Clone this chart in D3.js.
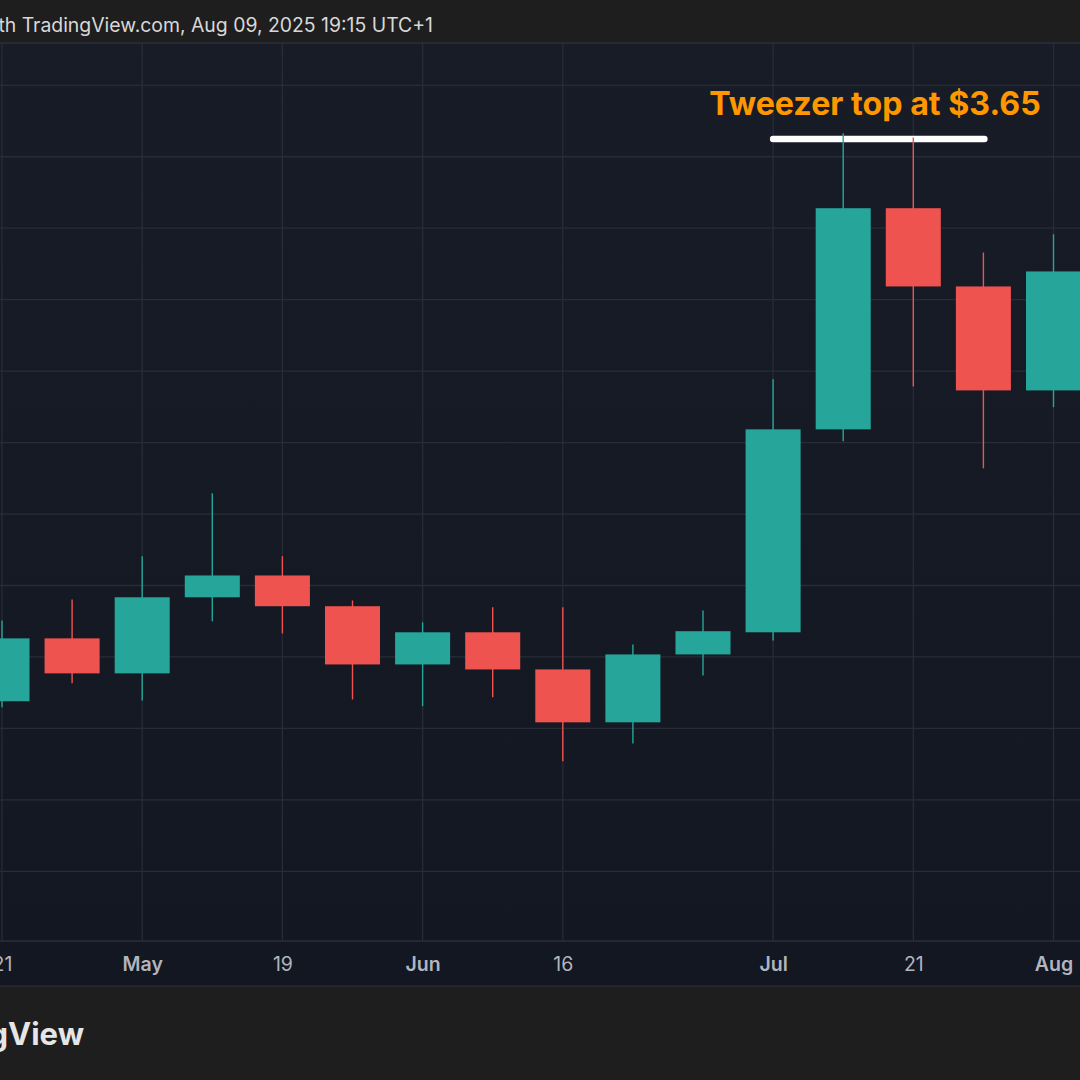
<!DOCTYPE html>
<html>
<head>
<meta charset="utf-8">
<script src="https://cdn.jsdelivr.net/npm/d3@7"></script>
<style>
  html, body { margin: 0; padding: 0; background: #1e1e1e; overflow: hidden; }
  svg { display: block; }
  text { font-family: Inter, "Noto Sans", sans-serif; }
</style>
</head>
<body>
<div id="chart"></div>
<script>
const width = 1080;
const height = 1080;

// weekly candles
const weeks = ["Apr 21", "Apr 28", "May 05", "May 12", "May 19", "May 26", "Jun 02", "Jun 09",
    "Jun 16", "Jun 23", "Jun 30", "Jul 07", "Jul 14", "Jul 21", "Jul 28", "Aug 04"];
const opens = [2.076, 2.252, 2.154, 2.367, 2.428, 2.342, 2.179, 2.269,
    2.165, 2.017, 2.207, 2.269, 2.837, 3.456, 3.237, 2.946];
const closes = [2.252, 2.154, 2.367, 2.428, 2.342, 2.179, 2.269, 2.165,
    2.017, 2.207, 2.272, 2.837, 3.456, 3.237, 2.946, 3.279];
const highs = [2.302, 2.361, 2.482, 2.658, 2.482, 2.358, 2.297, 2.339,
    2.339, 2.235, 2.330, 2.977, 3.666, 3.654, 3.332, 3.383];
const lows = [2.059, 2.126, 2.078, 2.300, 2.266, 2.081, 2.062, 2.087,
    1.908, 1.958, 2.148, 2.246, 2.804, 2.957, 2.728, 2.899];

const priceGrid = [3.8, 3.6, 3.4, 3.2, 3.0, 2.8, 2.6, 2.4, 2.2, 2.0, 1.8, 1.6];
const tickWeeks = ["Apr 21", "May 05", "May 19", "Jun 02", "Jun 16", "Jul 07", "Jul 21", "Aug 04"];
const tickLabels = ["21", "May", "19", "Jun", "16", "Jul", "21", "Aug"];
const boldTicks = ["May", "Jun", "Jul", "Aug"];

const headerText = "Chart with TradingView.com, Aug 09, 2025 19:15 UTC+1";
const logoText = "TradingView";
const noteText = "Tweezer top at $3.65";
const notePrice = 3.65;
const noteFrom = "Jul 07";
const noteTo = "Jul 28";

const plotTop = 43;
const plotBottom = 941;
const axisBottom = 986;

const upColor = "#26a69a";
const downColor = "#ef5350";

const x = d3.scalePoint().domain(weeks).range([2, 1053.5]);
const y = d3.scaleLinear().domain([3.8, 1.6]).range([85.3, 871.3]);
const bodyWidth = x.step() * 0.785;

const candles = weeks.map((w, i) => ({ week: w, open: opens[i], close: closes[i], high: highs[i], low: lows[i] }));

const svg = d3.select("#chart").append("svg")
    .attr("width", width)
    .attr("height", height);

const grad = svg.append("defs").append("linearGradient")
    .attr("id", "plotBg")
    .attr("x1", 0).attr("y1", 0).attr("x2", 0).attr("y2", 1);
grad.append("stop").attr("offset", "0%").attr("stop-color", "#181c27");
grad.append("stop").attr("offset", "100%").attr("stop-color", "#131722");

svg.append("rect")
    .attr("width", width)
    .attr("height", height)
    .attr("fill", "#1e1e1e");

svg.append("rect")
    .attr("y", plotTop)
    .attr("width", width)
    .attr("height", axisBottom - plotTop)
    .attr("fill", "url(#plotBg)");

// grid
svg.append("g").selectAll("line")
    .data(priceGrid)
    .join("line")
    .attr("x1", 0)
    .attr("x2", width)
    .attr("y1", d => y(d))
    .attr("y2", d => y(d))
    .attr("stroke", "#282c37")
    .attr("stroke-width", 1.3);

svg.append("g").selectAll("line")
    .data(tickWeeks)
    .join("line")
    .attr("x1", d => x(d))
    .attr("x2", d => x(d))
    .attr("y1", plotTop)
    .attr("y2", plotBottom)
    .attr("stroke", "#282c37")
    .attr("stroke-width", 1.3);

// frame lines
[plotTop, plotBottom, axisBottom].forEach(v => {
    svg.append("line")
        .attr("x1", 0)
        .attr("x2", width)
        .attr("y1", v)
        .attr("y2", v)
        .attr("stroke", v === axisBottom ? "#2a2830" : "#2b2f3a")
        .attr("stroke-width", 1.5);
});

// time axis
const xAxis = d3.axisBottom(x)
    .tickValues(tickWeeks)
    .tickSize(0)
    .tickPadding(16)
    .tickFormat(d => tickLabels[tickWeeks.indexOf(d)]);

const axisG = svg.append("g")
    .attr("transform", "translate(0," + plotBottom + ")")
    .call(xAxis);
axisG.select(".domain").remove();
axisG.selectAll("text")
    .attr("fill", "#b2b5be")
    .style("font-family", "Inter, sans-serif")
    .style("font-size", "19.5px")
    .style("font-weight", d => boldTicks.includes(tickLabels[tickWeeks.indexOf(d)]) ? 600 : 400);

// note line goes under the wicks
svg.append("line")
    .attr("x1", x(noteFrom))
    .attr("x2", x(noteTo) + 1)
    .attr("y1", y(notePrice))
    .attr("y2", y(notePrice))
    .attr("stroke", "#fff")
    .attr("stroke-width", 6.5)
    .attr("stroke-linecap", "round");

// candles
const candle = svg.append("g").selectAll("g")
    .data(candles)
    .join("g")
    .attr("fill", d => d.close >= d.open ? upColor : downColor)
    .attr("stroke", d => d.close >= d.open ? upColor : downColor);

candle.append("line")
    .attr("x1", d => x(d.week))
    .attr("x2", d => x(d.week))
    .attr("y1", d => y(d.high))
    .attr("y2", d => y(d.low))
    .attr("stroke-width", 1.4);

candle.append("rect")
    .attr("x", d => x(d.week) - bodyWidth / 2)
    .attr("y", d => y(Math.max(d.open, d.close)))
    .attr("width", bodyWidth)
    .attr("height", d => Math.abs(y(d.open) - y(d.close)))
    .attr("stroke", "none");

// texts
svg.append("text")
    .attr("x", 433)
    .attr("y", 32)
    .attr("text-anchor", "end")
    .attr("fill", "#d8d8d8")
    .style("font-size", "19.4px")
    .text(headerText);

svg.append("text")
    .attr("x", 84)
    .attr("y", 1045)
    .attr("text-anchor", "end")
    .attr("fill", "#e6e6e6")
    .style("font-size", "31px")
    .style("font-weight", 700)
    .text(logoText);

svg.append("text")
    .attr("x", 875)
    .attr("y", 115)
    .attr("text-anchor", "middle")
    .attr("fill", "#ff9800")
    .style("font-size", "32.2px")
    .style("font-weight", 700)
    .text(noteText);
</script>
</body>
</html>
